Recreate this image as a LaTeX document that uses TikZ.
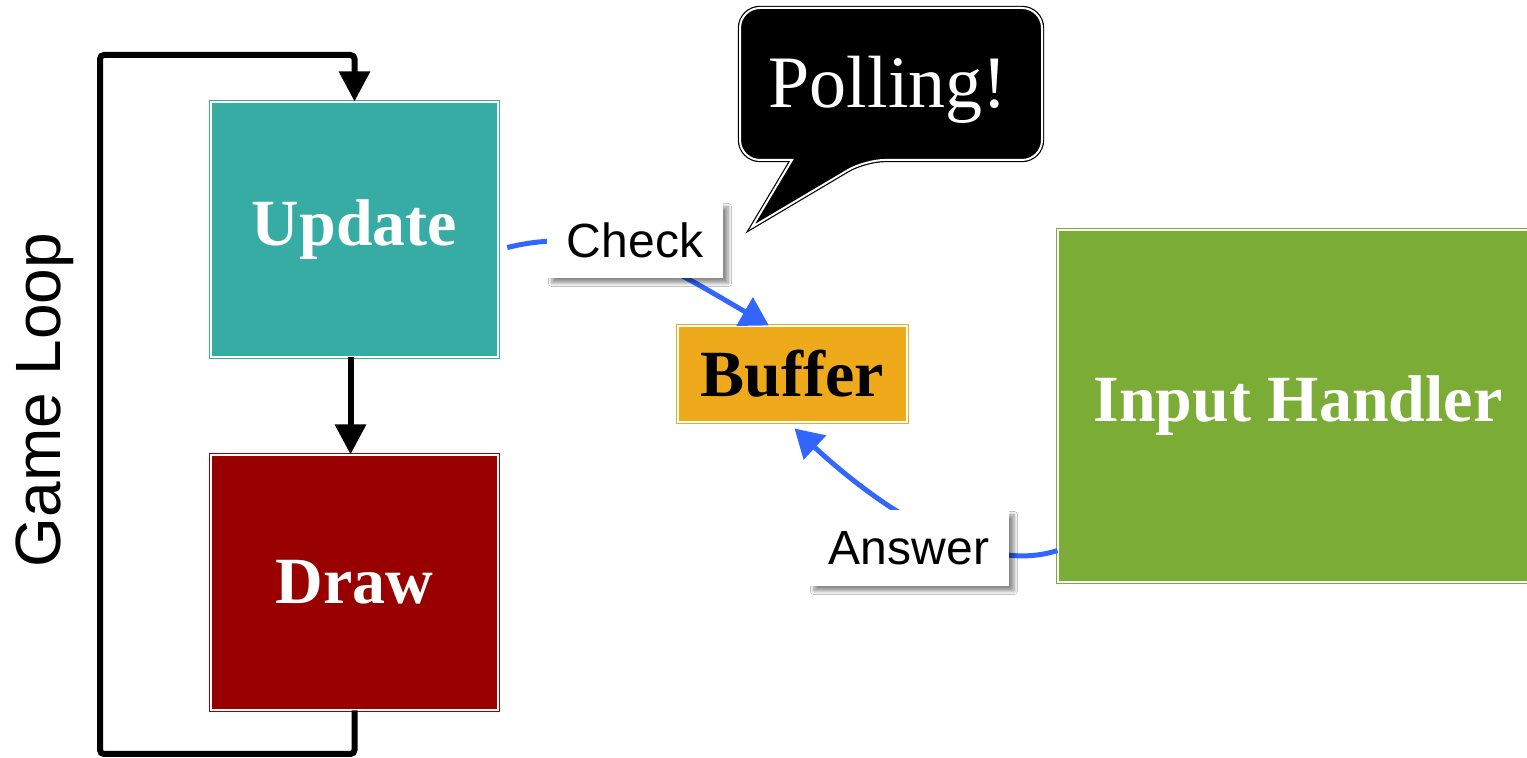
\documentclass[tikz,border=0pt]{standalone}
\usepackage{fontspec}
\setmainfont{Liberation Serif}
\setsansfont{Liberation Sans}
\usetikzlibrary{arrows.meta, shadows.blur}

\definecolor{updcol}{RGB}{55,172,164}
\definecolor{drawcol}{RGB}{153,0,0}
\definecolor{bufcol}{RGB}{238,170,26}
\definecolor{inpcol}{RGB}{122,172,54}
\definecolor{flowcol}{RGB}{51,102,255}

\tikzset{bb/.style={draw=#1, fill=#1, double=white, double distance=1pt, line width=0.5pt, text=white, font=\fontsize{33}{40}\selectfont\bfseries}}
\tikzset{tag/.style={fill=white, inner xsep=10pt, minimum height=38pt, font=\sffamily\fontsize{24}{28}\selectfont, blur shadow={shadow xshift=2.5pt, shadow yshift=-2.5pt, shadow blur steps=6, shadow opacity=45}}}
\tikzset{flow/.style={draw=flowcol, line width=2.5pt, -{Triangle[length=14pt, width=16pt]}}}
\tikzset{loopline/.style={line width=3pt, rounded corners=2pt, -{Triangle[length=15pt, width=15pt]}}}

\begin{document}
\begin{tikzpicture}[x=0.5pt, y=0.5pt]
    \fill[white] (0,0) rectangle (1527,758);
    \useasboundingbox (0,0) rectangle (1527,758);

    \node[bb=updcol, minimum width=143.5pt, minimum height=127.5pt] (update) at (354.5,528.5) {Update};
    \node[bb=drawcol, minimum width=143.5pt, minimum height=127.5pt] (draw) at (354.5,175.5) {Draw};
    \node[bb=bufcol, text=black, minimum width=114.5pt, minimum height=48pt] (buffer) at (792.5,384) {Buffer};
    \node[bb=inpcol, minimum width=240pt, minimum height=176pt] (input) at (1298,352) {Input Handler};

    \node[rotate=90, font=\sffamily\fontsize{32}{38}\selectfont] (gameloop) at (45,358) {Game Loop};

    \coordinate (loopbl) at (100,4);
    \coordinate (looptl) at (100,703);
    \draw[loopline] (draw.south) |- (loopbl) -- (looptl) -| (update.north);
    \draw[loopline] ([xshift=-2pt]update.south) -- ([xshift=-2pt]draw.north);

    \draw[flow, shorten <=4.5pt] (update.-8) to[out=14, in=150] (buffer.116);
    \draw[flow] (input.211) to[out=198, in=-43, looseness=.8] ([xshift=1pt, yshift=-3pt]buffer.south);

    \node[tag] (check) at (635,518) {Check};
    \node[tag] (answer) at (909,210) {Answer};

    \filldraw[draw=black, fill=black, double=white, double distance=1pt, line width=0.6pt] (752,531) -- (792,598) [rounded corners=10pt] -- (740,598) -- (740,750) -- (1042,750) -- (1042,598) -- (865,598) [sharp corners] -- cycle;
    \node[text=white, font=\fontsize{37}{44}\selectfont] (polling) at (888,668) {Polling!};
\end{tikzpicture}
\end{document}
